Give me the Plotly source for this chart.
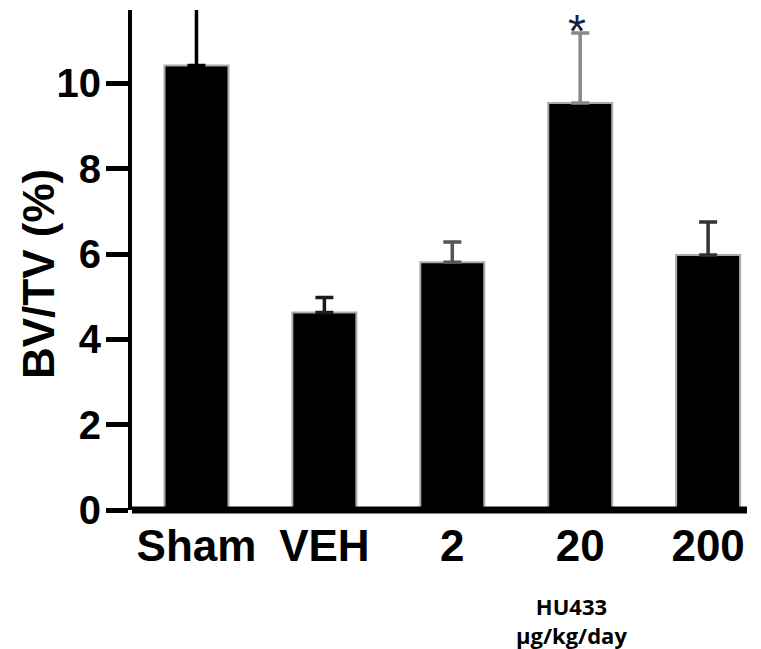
import plotly.graph_objects as go

categories = ["Sham", "VEH", "2", "20", "200"]
bv_tv = [10.42, 4.63, 5.81, 9.54, 5.98]
sem_up = [1.6, 0.35, 0.47, 1.64, 0.77]
err_colors = ["#000000", "#1a1a1a", "#555555", "#888888", "#333333"]
y_ticks = [0, 2, 4, 6, 8, 10]

W, H = 761, 649
L, R, T, B = 132, 14, 10, 139
pw, ph = W - L - R, H - T - B

fig = go.Figure()
for i, (c, v, e, ec) in enumerate(zip(categories, bv_tv, sem_up, err_colors)):
    fig.add_trace(go.Bar(
        x=[i], y=[v], width=0.5,
        marker=dict(color="black", line=dict(color="#aaaaaa", width=2)),
        error_y=dict(type="data", array=[e], symmetric=False, arrayminus=[0],
                     color=ec, thickness=3.5, width=9, visible=True),
        showlegend=False, hoverinfo="skip",
    ))

fig.update_layout(
    width=W, height=H,
    margin=dict(l=L, r=R, t=T, b=B, pad=0),
    paper_bgcolor="white", plot_bgcolor="white",
    barmode="overlay",
    font=dict(family="Liberation Sans, Arial", color="black"),
    xaxis=dict(
        range=[-0.504, 4.304],
        tickmode="array", tickvals=list(range(len(categories))), ticktext=categories,
        showline=False, showgrid=False, zeroline=False, ticks="",
        tickfont=dict(size=44, family="Liberation Sans, Arial", weight="bold"),
        ticklabelstandoff=6,
    ),
    yaxis=dict(
        range=[0, 11.72],
        tickmode="array", tickvals=y_ticks,
        showline=True, linecolor="black", linewidth=4,
        ticks="outside", ticklen=22, tickwidth=5, tickcolor="black",
        showgrid=False, zeroline=False,
        tickfont=dict(size=40, family="Liberation Sans, Arial", weight="bold"),
        ticklabelstandoff=-3,
    ),
    shapes=[dict(type="line", xref="paper", yref="paper", x0=0, x1=1, y0=0, y1=0,
                 line=dict(color="black", width=7), layer="above")],
    annotations=[
        dict(text="BV/TV (%)", xref="paper", yref="paper",
             x=(38 - L) / pw, y=(510 - 274) / ph, textangle=-90,
             showarrow=False, xanchor="center", yanchor="middle",
             font=dict(size=44, family="Liberation Sans, Arial", weight="bold")),
        dict(text="*", xref="paper", yref="paper",
             x=(577 - L) / pw, y=(510 - 31) / ph,
             showarrow=False, xanchor="center", yanchor="middle",
             font=dict(size=46, family="Liberation Sans, Arial", color="#1a2040")),
        dict(text="HU433<br>µg/kg/day", xref="paper", yref="paper",
             x=(571 - L) / pw, y=(510 - 620) / ph,
             showarrow=False, xanchor="center", yanchor="middle",
             font=dict(size=22, family="Open Sans", weight="bold")),
    ],
)

fig.write_html("out.html")
